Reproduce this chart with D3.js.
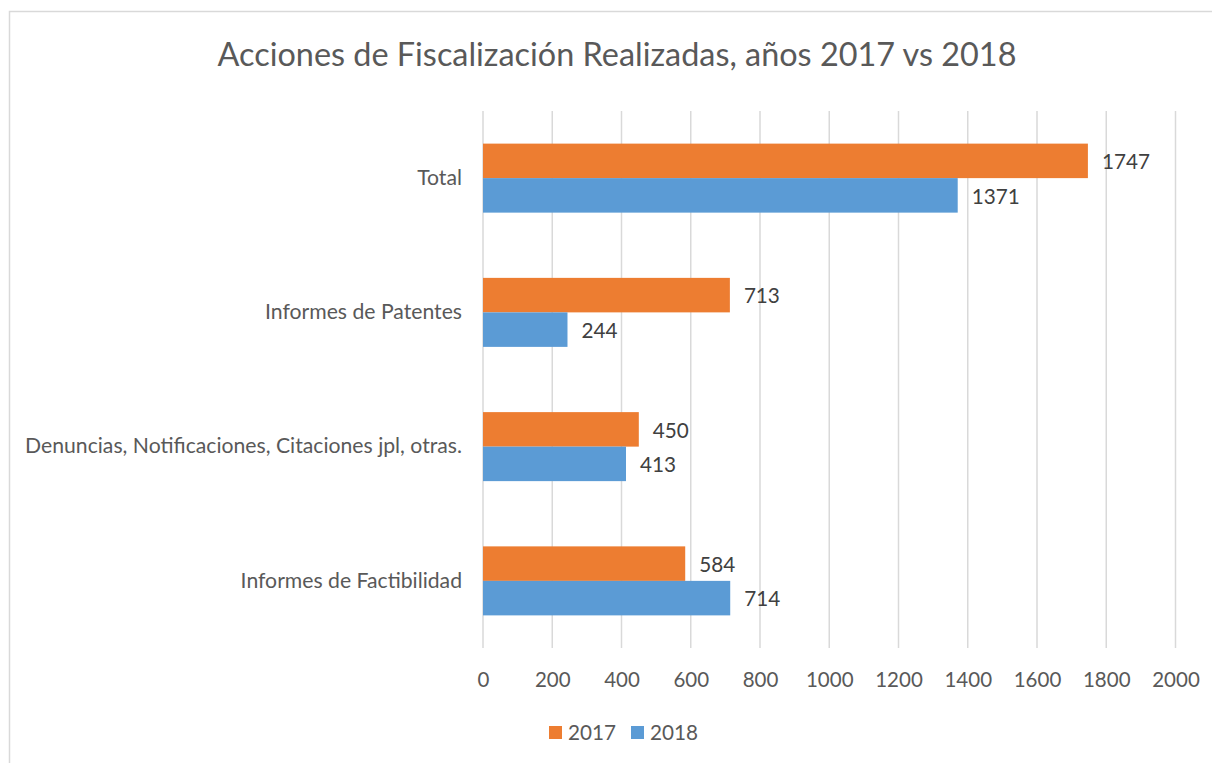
<!DOCTYPE html>
<html>
<head>
<meta charset="utf-8">
<script src="https://cdn.jsdelivr.net/npm/d3@7"></script>
<style>
  body { margin: 0; background: #fff; }
  text { font-family: Lato, sans-serif; }
</style>
</head>
<body>
<svg id="chart" width="1212" height="763"></svg>
<script>
const categories = ["Total", "Informes de Patentes", "Denuncias, Notificaciones, Citaciones jpl, otras.", "Informes de Factibilidad"];
const seriesNames = ["2017", "2018"];
const values2017 = [1747, 713, 450, 584];
const values2018 = [1371, 244, 413, 714];
const xTicks = [0, 200, 400, 600, 800, 1000, 1200, 1400, 1600, 1800, 2000];
const colors = ["#ED7D31", "#5B9BD5"];
const title = "Acciones de Fiscalización Realizadas, años 2017 vs 2018";

const FONT = "Lato, sans-serif";
const svg = d3.select("#chart");
const W = 1212, H = 763;

// chart border
svg.append("rect").attr("x", 9.5).attr("y", 11.5).attr("width", W + 20).attr("height", H + 20)
  .attr("fill", "#fff").attr("stroke", "#D9D9D9").attr("stroke-width", 1.5);

const plot = { left: 483, right: 1175.5, top: 111, bottom: 648 };

const x = d3.scaleLinear().domain([0, 2000]).range([plot.left, plot.right]);
const y = d3.scaleBand().domain(categories).range([plot.top, plot.bottom]).paddingInner(0.486).paddingOuter(0.243);
const ySub = d3.scaleBand().domain(seriesNames).range([0, y.bandwidth()]);

// gridlines
svg.append("g").selectAll("line").data(xTicks).join("line")
  .attr("x1", d => x(d)).attr("x2", d => x(d))
  .attr("y1", plot.top).attr("y2", plot.bottom)
  .attr("stroke", "#D9D9D9").attr("stroke-width", 1.5);

// x axis labels
const xAxis = d3.axisBottom(x).tickValues(xTicks).tickSize(0).tickPadding(0).tickFormat(d3.format("d"));
const gx = svg.append("g").attr("transform", `translate(0,${plot.bottom + 24})`).call(xAxis);
gx.select(".domain").remove();
gx.selectAll("text").attr("font-size", 20.5).attr("fill", "#595959").attr("font-family", FONT);

// y axis labels
const yAxis = d3.axisLeft(y).tickSize(0).tickPadding(0);
const gy = svg.append("g").attr("transform", `translate(${plot.left - 21},0)`).call(yAxis);
gy.select(".domain").remove();
gy.selectAll("text").attr("font-size", 21.2).attr("fill", "#595959").attr("font-family", FONT);

// bars
const data = categories.map((c, i) => ({ cat: c, vals: [values2017[i], values2018[i]] }));
const groups = svg.append("g").selectAll("g").data(data).join("g")
  .attr("transform", d => `translate(0,${y(d.cat)})`);
groups.selectAll("rect").data(d => d.vals.map((v, j) => ({ v, s: seriesNames[j], j }))).join("rect")
  .attr("x", x(0)).attr("y", d => ySub(d.s))
  .attr("width", d => x(d.v) - x(0)).attr("height", ySub.bandwidth())
  .attr("fill", d => colors[d.j]);
groups.selectAll("text").data(d => d.vals.map((v, j) => ({ v, s: seriesNames[j], j }))).join("text")
  .attr("x", d => x(d.v) + 14).attr("y", d => ySub(d.s) + ySub.bandwidth() / 2 + 1)
  .attr("dy", "0.35em").attr("font-size", 20.7).attr("fill", "#404040")
  .text(d => d.v);

// title
svg.append("text").attr("x", 617).attr("y", 66).attr("text-anchor", "middle")
  .attr("font-size", 32.4).attr("fill", "#595959").text(title);

// legend
const legend = svg.append("g").attr("transform", "translate(549,726)");
const li = legend.selectAll("g").data(seriesNames).join("g")
  .attr("transform", (d, i) => `translate(${i * 82},0)`);
li.append("rect").attr("width", 13).attr("height", 13).attr("fill", (d, i) => colors[i]);
li.append("text").attr("x", 19).attr("y", 6.5).attr("dy", "0.35em")
  .attr("font-size", 20.7).attr("fill", "#595959").text(d => d);
</script>
</body>
</html>
